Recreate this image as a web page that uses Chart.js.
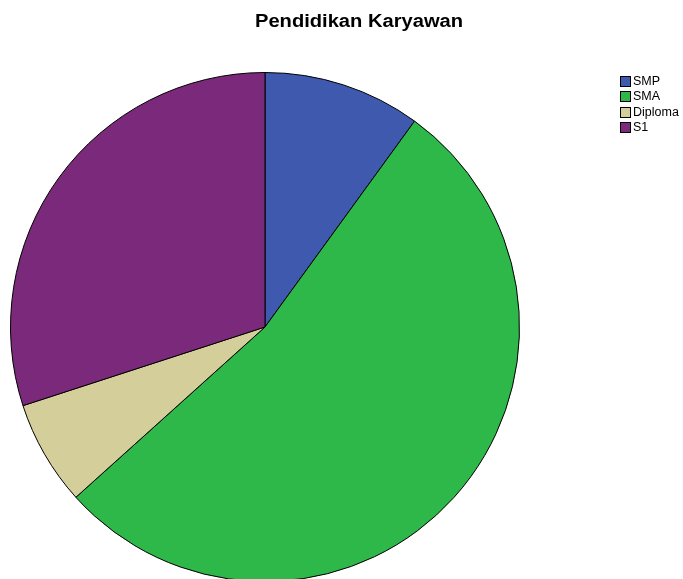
<!DOCTYPE html>
<html>
<head>
<meta charset="utf-8">
<script src="https://cdn.jsdelivr.net/npm/chart.js@4/dist/chart.umd.min.js"></script>
<style>
  html, body { margin: 0; padding: 0; background: #fff; overflow: hidden; }
  #wrap { width: 683px; height: 600px; }
</style>
</head>
<body>
<div id="wrap"><canvas id="pie" width="683" height="600"></canvas></div>
<script>
'use strict';

const chartTitle = 'Pendidikan Karyawan';
const categories = ['SMP', 'SMA', 'Diploma', 'S1'];
const counts = [3, 16, 2, 9];
const sliceColors = ['#3e59ad', '#2eb849', '#d4ce9a', '#7b2a7b'];

// title and legend are painted by hand so the pie keeps its own box
const decorPlugin = {
    id: 'decor',
    afterDraw: function (chart) {
        const ctx = chart.ctx;
        ctx.save();
        ctx.fillStyle = '#000';
        ctx.font = 'bold 17.5px "Liberation Sans", Arial, sans-serif';
        ctx.textAlign = 'center';
        ctx.textBaseline = 'alphabetic';
        // the title is set a little wide
        ctx.save();
        ctx.translate(359, 27);
        ctx.scale(1.15, 1);
        ctx.fillText(chartTitle, 0, 0);
        ctx.restore();

        ctx.font = '12.5px "Liberation Sans", Arial, sans-serif';
        ctx.textAlign = 'left';
        ctx.textBaseline = 'middle';
        categories.forEach((label, i) => {
            const y = Math.round(76 + i * 15.3);
            ctx.fillStyle = sliceColors[i];
            ctx.fillRect(620, y, 11, 11);
            ctx.strokeStyle = '#000';
            ctx.lineWidth = 1;
            ctx.strokeRect(620.5, y + 0.5, 10, 10);
            ctx.fillStyle = '#000';
            ctx.fillText(label, 633, y + 6);
        });
        ctx.restore();
    }
};

new Chart(document.getElementById('pie').getContext('2d'), {
    type: 'pie',
    data: {
        labels: categories,
        datasets: [{
            data: counts,
            backgroundColor: sliceColors,
            borderColor: '#000',
            borderWidth: 1
        }]
    },
    options: {
        responsive: false,
        animation: false,
        layout: {
            padding: { left: 10, top: 72, right: 163, bottom: 18 }
        },
        plugins: {
            legend: { display: false },
            title: { display: false },
            tooltip: { enabled: false }
        }
    },
    plugins: [decorPlugin]
});
</script>
</body>
</html>
